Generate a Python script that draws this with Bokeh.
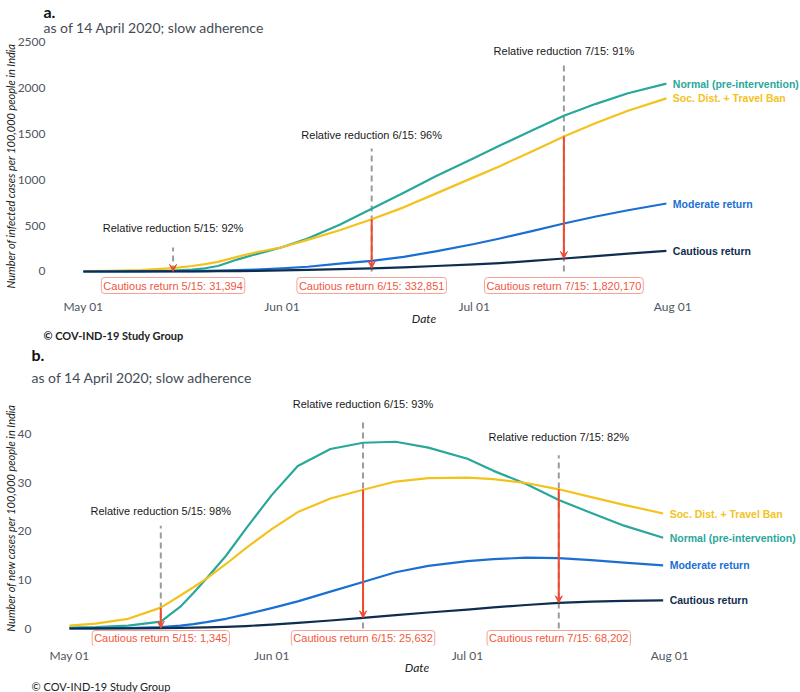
import pandas as pd
from bokeh.plotting import figure
from bokeh.models import (ColumnDataSource, Label, Arrow, VeeHead, FixedTicker,
                          DatetimeTickFormatter, Range1d, Title)
from bokeh.embed import file_html
from bokeh.resources import INLINE

# ---------------- data ----------------
dates = ["2020-05-01", "2020-05-05", "2020-05-10", "2020-05-15", "2020-05-18", "2020-05-20",
         "2020-05-22", "2020-05-25", "2020-05-28", "2020-06-01", "2020-06-05", "2020-06-10",
         "2020-06-15", "2020-06-20", "2020-06-25", "2020-07-01", "2020-07-05", "2020-07-10",
         "2020-07-15", "2020-07-20", "2020-07-25", "2020-07-31"]

# panel a: infected cases per 100,000
a_normal = [0, 1, 3, 10, 22, 35, 60, 130, 190, 265, 360, 510, 685, 860, 1040, 1240, 1375, 1540,
            1700, 1830, 1945, 2050]
a_socdist = [5, 8, 15, 36, 60, 80, 105, 160, 210, 265, 345, 450, 570, 700, 850, 1030, 1150, 1310,
             1474, 1620, 1755, 1890]
a_moderate = [0, 0.2, 1, 3, 5, 7, 9, 14, 22, 35, 52, 85, 115, 160, 220, 300, 360, 440, 524, 600,
              668, 742]
a_cautious = [0, 0.1, 0.4, 1, 1.7, 2.3, 3, 5, 7.5, 12, 17, 25, 35, 46, 60, 78, 92, 115, 142, 168,
              195, 226]

# panel b: new cases per 100,000
b_normal = [0.2, 0.3, 0.6, 1.4, 4.5, 7.3, 10.3, 15, 20.5, 27.5, 33.5, 37, 38.3, 38.5, 37.3, 35,
            32.5, 29.8, 26.5, 23.8, 21.2, 18.7]
b_socdist = [0.6, 1.0, 2.0, 4.3, 6.8, 8.5, 10.3, 13.3, 16.5, 20.5, 24, 26.8, 28.6, 30.3, 31, 31.1,
             30.8, 30.0, 28.7, 27.1, 25.5, 23.7]
b_moderate = [0, 0.02, 0.1, 0.3, 0.6, 0.9, 1.3, 2.0, 2.9, 4.2, 5.6, 7.6, 9.6, 11.6, 12.9, 13.9,
              14.3, 14.6, 14.5, 14.1, 13.6, 13.0]
b_cautious = [0, 0.01, 0.03, 0.07, 0.12, 0.17, 0.23, 0.35, 0.5, 0.8, 1.15, 1.65, 2.2, 2.75, 3.3,
              3.9, 4.35, 4.85, 5.3, 5.55, 5.7, 5.8]

series_names = ["Normal (pre-intervention)", "Soc. Dist. + Travel Ban", "Moderate return",
                "Cautious return"]

ann_dates = ["2020-05-15", "2020-06-15", "2020-07-15"]
a_reduction = ["Relative reduction 5/15: 92%", "Relative reduction 6/15: 96%",
               "Relative reduction 7/15: 91%"]
a_totals = ["Cautious return 5/15: 31,394", "Cautious return 6/15: 332,851",
            "Cautious return 7/15: 1,820,170"]
b_reduction = ["Relative reduction 5/15: 98%", "Relative reduction 6/15: 93%",
               "Relative reduction 7/15: 82%"]
b_totals = ["Cautious return 5/15: 1,345", "Cautious return 6/15: 25,632",
            "Cautious return 7/15: 68,202"]

x_ticks = ["2020-05-01", "2020-06-01", "2020-07-01", "2020-08-01"]
a_yticks = [0, 500, 1000, 1500, 2000, 2500]
b_yticks = [0, 10, 20, 30, 40]

# ---------------- styles / layout ----------------
COLORS = ["#2AA79B", "#F4C21C", "#1A70D2", "#0F2D4F"]
RED = "#EE4A30"
GREY_DASH = "#9B9B9B"
DAY = 86400000.0


def ms(d):
    return pd.Timestamp(d).value / 1e6


def panel(series, yr, ylabel, yticks, lv, height, mbl, mbt, mbb, xpad,
          letter, letter_standoff, sub_standoff, cap_standoff, toff, caption_bold,
          reductions, totals):
    p = figure(width=800, height=height, x_axis_type="datetime",
               output_backend="svg", toolbar_location=None, title=letter,
               min_border_left=mbl, min_border_right=0, min_border_top=mbt,
               min_border_bottom=mbb)
    p.title.text_font = "Lato"
    p.title.text_font_size = "16px"
    p.title.text_font_style = "bold"
    p.title.text_color = "#111111"
    p.title.align = "left"
    p.title.offset = toff
    p.title.standoff = letter_standoff
    p.add_layout(Title(text="as of 14 April 2020; slow adherence", text_font="Lato",
                       text_font_size="14px", text_font_style="normal",
                       text_color="#444c56", align="left", offset=toff,
                       standoff=sub_standoff), "above")
    p.add_layout(Title(text="\u00a9 COV-IND-19 Study Group", text_font="Lato",
                       text_font_size="11px",
                       text_font_style="bold" if caption_bold else "normal",
                       text_color="#222222", align="left", offset=toff,
                       standoff=cap_standoff), "below")

    p.x_range = Range1d(ms("2020-05-01") - xpad[0] * DAY, ms("2020-08-01") + xpad[1] * DAY)
    p.y_range = Range1d(yr[0], yr[1])
    p.outline_line_color = None
    p.grid.visible = False
    p.background_fill_color = "white"
    p.border_fill_color = "white"

    p.xaxis.ticker = FixedTicker(ticks=[ms(t) for t in x_ticks])
    p.xaxis.formatter = DatetimeTickFormatter(months="%b %d", days="%b %d", hours="%b %d")
    p.yaxis.ticker = FixedTicker(ticks=yticks)
    for ax in (p.xaxis, p.yaxis):
        ax.axis_line_color = None
        ax.major_tick_line_color = None
        ax.minor_tick_line_color = None
        ax.major_tick_out = 0
        ax.major_tick_in = 0
        ax.minor_tick_out = 0
        ax.major_label_text_font = "Lato"
        ax.major_label_text_font_size = "12px"
        ax.major_label_text_color = "#50575f"
        ax.axis_label_text_font = "Lato"
        ax.axis_label_text_font_style = "italic"
        ax.axis_label_text_color = "#222222"
    p.xaxis.axis_label = "Date"
    p.xaxis.axis_label_text_font_size = "12px"
    p.xaxis.major_label_standoff = 2
    p.xaxis.axis_label_standoff = -6
    p.yaxis.axis_label = ylabel
    p.yaxis.axis_label_text_font_size = "11px"
    p.yaxis.major_label_standoff = 2
    p.yaxis.axis_label_standoff = -2

    xs = [ms(d) for d in dates]
    ax_ms = [ms(d) for d in ann_dates]
    idx = [dates.index(d) for d in ann_dates]
    soc, cau = series[1], series[3]

    # dashed reference lines
    dsrc = ColumnDataSource(dict(x=ax_ms, y0=[0] * 3, y1=lv["dash"]))
    p.segment(x0="x", y0="y0", x1="x", y1="y1", source=dsrc, line_color=GREY_DASH,
              line_width=2, line_dash="6 4")

    # curves
    for vals, col in zip(series, COLORS):
        p.line(xs, vals, line_color=col, line_width=2.2, line_join="round")

    # arrows: from Soc. Dist. down to Cautious return
    asrc = ColumnDataSource(dict(x=ax_ms, ys=[soc[i] for i in idx], ye=[cau[i] for i in idx]))
    p.add_layout(Arrow(end=VeeHead(size=7, line_color=RED, fill_color=RED, line_width=1),
                       x_start="x", y_start="ys", x_end="x", y_end="ye", source=asrc,
                       line_color=RED, line_width=2))

    # annotation texts
    for k in range(3):
        p.add_layout(Label(x=ax_ms[k], y=lv["label"][k], text=reductions[k],
                           text_align="center", text_baseline="middle",
                           text_font="Liberation Sans", text_font_size="11px",
                           text_color="#1a1a1a"))
        p.add_layout(Label(x=ax_ms[k], y=lv["box"], text=totals[k],
                           text_align="center", text_baseline="middle",
                           text_font="Liberation Sans", text_font_size="11px",
                           text_color="#EF5840", background_fill_color="white",
                           border_line_color="#F4A295", border_line_width=1,
                           padding=2, border_radius=3))

    # end-of-line labels
    for vals, col, name in zip(series, COLORS, series_names):
        p.add_layout(Label(x=ms("2020-08-01"), y=vals[-1], text=name, text_align="left",
                           text_baseline="middle", text_font="Liberation Sans",
                           text_font_size="10.5px", text_font_style="bold", text_color=col))
    return p


pa = panel([a_normal, a_socdist, a_moderate, a_cautious], (-273, 2576),
           "Number of infected cases per 100,000 people in India", a_yticks,
           dict(dash=[262, 1343, 2270], label=[480, 1485, 2405], box=-153),
           343, 40, 35, 47, (5.60, 19.93), "a.", -6, -1, -4, -4, True,
           a_reduction, a_totals)

pb = panel([b_normal, b_socdist, b_moderate, b_cautious], (-3.505, 49.07),
           "Number of new cases per 100,000 people in India", b_yticks,
           dict(dash=[21.2, 42.9, 35.7], label=[24.3, 46.2, 39.4], box=-2.06),
           349, 30, 47, 47, (5.51, 20.05), "b.", -3, 9, 0, -2, False,
           b_reduction, b_totals)

open("out.html", "w").write(file_html([pa, pb], INLINE))
